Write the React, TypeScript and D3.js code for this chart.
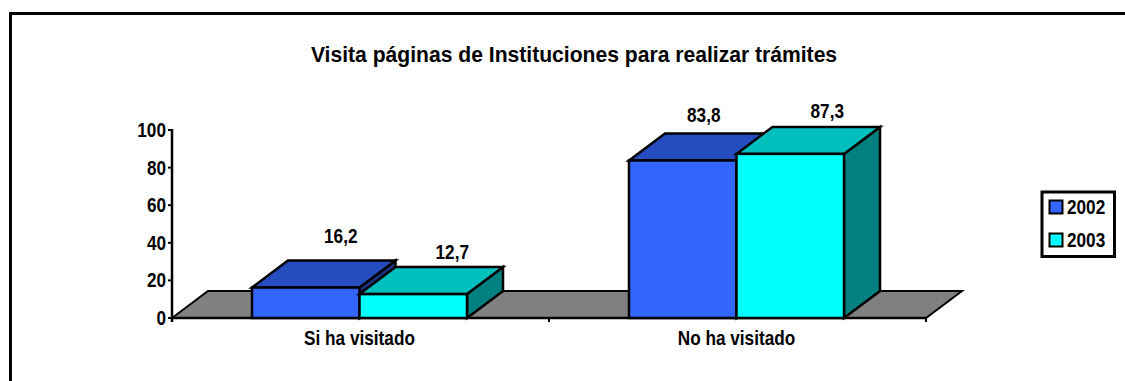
import React from "react";
import * as d3 from "d3";

const categories = ["Si ha visitado", "No ha visitado"];
const seriesNames = ["2002", "2003"];
const values2002 = [16.2, 83.8];
const values2003 = [12.7, 87.3];
const yTicks = [0, 20, 40, 60, 80, 100];
const titleText = "Visita páginas de Instituciones para realizar trámites";

const FONT = "'Liberation Sans', Arial, sans-serif";
const DX = 36;
const DY = -27;
const colors = [
  { front: "#3366FF", top: "#264DBF", side: "#1A3380" },
  { front: "#00FFFF", top: "#00BFBF", side: "#008080" },
];
// hand-placed nudges of the data labels [dx, baseline above back edge]
const labelNudge = [
  [[-1, 18], [3, 8]],
  [[-15, 11], [1, 9]],
];

const y = d3.scaleLinear().domain([0, 100]).range([318, 130]);
const x = d3.scaleBand().domain(categories).range([172, 926]);
const inner = d3.scaleBand().domain(seriesNames).range([80, 295]);
const seriesValues = [values2002, values2003];

const poly = (pts: [number, number][]) => d3.line()(pts)! + "Z";

function T({ x, y, anchor = "start", size = 20, k = 0.86, children }: any) {
  return (
    <text
      transform={`translate(${x},${y}) scale(${k},1)`}
      textAnchor={anchor}
      fontSize={size}
      fontWeight={700}
      fontFamily={FONT}
      fill="#000"
    >
      {children}
    </text>
  );
}

export default function App() {
  const y0 = y(0);
  const xEnd = x.range()[1];
  const xStart = x.range()[0];
  const sw = 2.5;
  return (
    <svg
      width={1125}
      height={381}
      style={{ position: "absolute", left: 0, top: 0, background: "#fff" }}
    >
      <path d="M10.5,381V13.5H1125" fill="none" stroke="#000" strokeWidth={3} />
      <T x={574} y={62} anchor="middle" size={22} k={0.96}>{titleText}</T>

      <path
        d={poly([[xStart, y0], [xStart + DX, y0 + DY], [xEnd + DX, y0 + DY], [xEnd, y0]])}
        fill="#808080"
        stroke="#000"
        strokeWidth={2}
        strokeLinejoin="miter"
      />

      <line x1={xStart} x2={xStart} y1={y(100) - 1} y2={y0 + 4} stroke="#000" strokeWidth={2.5} />
      <line x1={xStart} x2={xEnd} y1={y0} y2={y0} stroke="#000" strokeWidth={2.5} />
      {yTicks.map((t) => (
        <g key={t}>
          <line x1={xStart - 4} x2={xStart} y1={y(t)} y2={y(t)} stroke="#000" strokeWidth={2} />
          <T x={xStart - 6} y={y(t) + 7} anchor="end">{t}</T>
        </g>
      ))}
      {[...categories.map((c) => x(c)! + x.bandwidth()), xStart].map((tx) => (
        <line key={tx} x1={tx} x2={tx} y1={y0} y2={y0 + 4} stroke="#000" strokeWidth={2} />
      ))}
      {categories.map((c) => (
        <T key={c} x={x(c)! + x.bandwidth() / 2 - 1} y={345} anchor="middle">{c}</T>
      ))}

      {categories.map((c, ci) =>
        seriesNames.map((s, si) => {
          const v = seriesValues[si][ci];
          const x0 = x(c)! + inner(s)!;
          const x1 = x0 + inner.bandwidth();
          const yt = y(v);
          const col = colors[si];
          const [ndx, lift] = labelNudge[ci][si];
          return (
            <g key={s}>
              <g stroke="#000" strokeWidth={sw} strokeLinejoin="miter">
                <path d={poly([[x1, y0], [x1 + DX, y0 + DY], [x1 + DX, yt + DY], [x1, yt]])} fill={col.side} />
                <path d={poly([[x0, yt], [x0 + DX, yt + DY], [x1 + DX, yt + DY], [x1, yt]])} fill={col.top} />
                <rect x={x0} y={yt} width={x1 - x0} height={y0 - yt} fill={col.front} />
              </g>
              <T x={(x0 + x1) / 2 + DX + ndx} y={yt + DY - lift} anchor="middle">
                {d3.format(".1f")(v).replace(".", ",")}
              </T>
            </g>
          );
        })
      )}

      <rect x={1042} y={192} width={72.5} height={64.5} fill="#fff" stroke="#000" strokeWidth={3} />
      {seriesNames.map((s, i) => (
        <g key={s}>
          <rect x={1049.5} y={200.5 + i * 33} width={13} height={13} fill={colors[i].front} stroke="#000" strokeWidth={2} />
          <T x={1067} y={214 + i * 33}>{s}</T>
        </g>
      ))}
    </svg>
  );
}
